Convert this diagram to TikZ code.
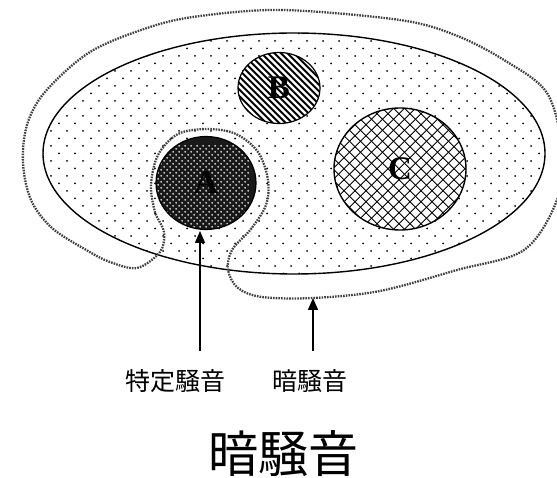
\documentclass[tikz,border=0pt]{standalone}
\usepackage{fontspec}
\setmainfont{Liberation Serif}
\newfontfamily\jpfont{Noto Sans CJK JP}
\usetikzlibrary{arrows.meta,shapes.geometric}
\begin{document}
\begin{tikzpicture}[x=1pt,y=-1pt,
  blob/.style={ellipse, inner sep=0pt, draw=black},
  letter/.style={font=\bfseries\fontsize{33}{33}\selectfont},
  dotline/.style={draw=black!75, line width=2.3pt, dash pattern=on 1.6pt off 1.1pt},
  lab/.style={font=\jpfont\fontsize{25}{25}\selectfont, inner sep=0pt},
  arr/.style={line width=1.5pt, -{Triangle[width=10pt,length=12pt]}}
]
\useasboundingbox (0,0) rectangle (557,478);
% main ellipse with sparse dots (path picture coordinates are relative to the node centre)
\node[blob, line width=1.4pt, minimum width=502pt, minimum height=241pt,
      path picture={
        \foreach \j in {0,...,32} \foreach \i in {0,...,31}
          \fill[black] ({-251+\i*16+8*mod(\j,2)},{-120+\j*7.5}) circle (1.0);
      }]
      (E) at (294,153.5) {};
% dotted boundary of background noise
\path[dotline] plot[smooth cycle, tension=0.55] coordinates {
 (137,268) (110,262) (88,251) (52,228) (31,200) (23,163) (27,125) (45,92)
 (90,52) (150,27) (200,16) (283,10) (400,20) (455,35) (504,60) (547,93)
 (562,150) (557,200) (524,250) (457,270) (380,291) (313,298) (262,297)
 (238,288) (228,270) (232,250) (251,229) (266,205) (268,180) (258,152)
 (236,134) (208,129) (178,134) (158,155) (151,185) (155,212) (164,232)
 (160,252)};
% circle A (dark)
\node[blob, line width=1.2pt, minimum width=100pt, minimum height=93pt,
      fill=black!90,
      path picture={
        \foreach \j in {0,...,32} \foreach \i in {0,...,17}
          \fill[white] ({-51+\i*6+3*mod(\j,2)},{-48+\j*3}) circle (0.9);
      },
      letter] (A) at (206,183) {A};
% circle B (stripes)
\node[blob, line width=1.2pt, minimum width=82pt, minimum height=71pt,
      fill=white,
      path picture={
        \foreach \k in {-20,...,20}
          \draw[line width=2.1pt] ({\k*6.5-60},-60) -- ({\k*6.5+60},60);
      },
      letter] (B) at (279,88) {B};
% circle C (cross-hatch)
\node[blob, line width=1.4pt, minimum width=132pt, minimum height=122pt,
      fill=white,
      path picture={
        \foreach \k in {-20,...,20} {
          \draw[line width=0.9pt] ({\k*11-80},-80) -- ({\k*11+80},80);
          \draw[line width=0.9pt] ({\k*11-80},80) -- ({\k*11+80},-80);
        }
      },
      letter] (C) at (400,169) {C};
% labels
\node[lab] (L1) at (175,381) {特定騒音};
\node[lab] (L2) at (310,381) {暗騒音};
\node[font=\jpfont\fontsize{50}{50}\selectfont, inner sep=0pt] (T) at (283,454) {暗騒音};
% arrows
\coordinate (s1) at (200,351);
\coordinate (t1) at (200,231);
\coordinate (s2) at (313,351);
\coordinate (t2) at (313,298);
\draw[arr] (s1) -- (t1);
\draw[arr] (s2) -- (t2);
\end{tikzpicture}
\end{document}
